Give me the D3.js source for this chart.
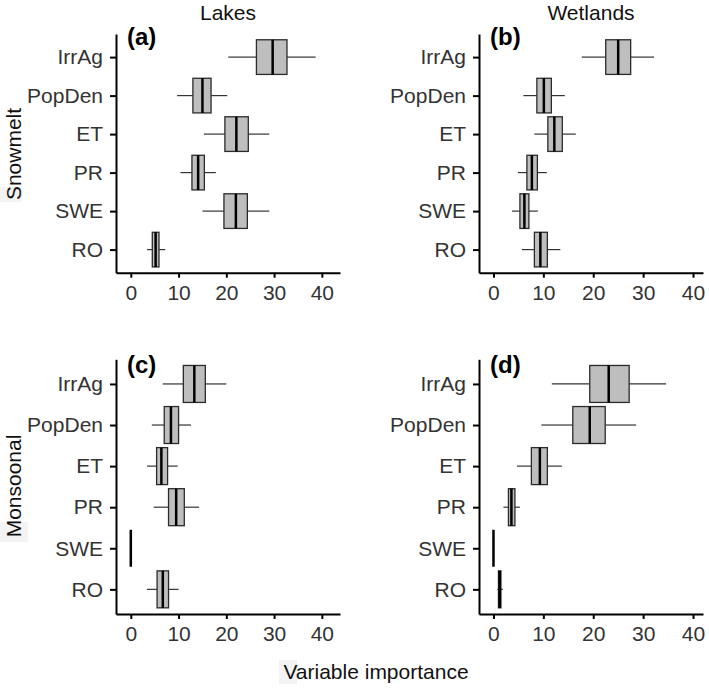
<!DOCTYPE html>
<html>
<head>
<meta charset="utf-8">
<script src="https://cdnjs.cloudflare.com/ajax/libs/d3/7.8.5/d3.min.js"></script>
<style>
  body { margin: 0; background: #fff; }
  svg { display: block; font-family: Arial, "Liberation Sans", sans-serif; }
  .axis path, .axis line { stroke: #000; stroke-width: 2; }
  .axis text { fill: #333; font-family: Arial, "Liberation Sans", sans-serif; }
</style>
</head>
<body>
<svg id="chart" width="709" height="688"></svg>
<script>
/******************* Data ***********************************/
var variables = ['IrrAg', 'PopDen', 'ET', 'PR', 'SWE', 'RO'];
var xTicks = [0, 10, 20, 30, 40];
var columns = ['Lakes', 'Wetlands'];
var rows = ['Snowmelt', 'Monsoonal'];

// each row: [lower whisker, q1, median, q3, upper whisker]
var lakesSnowmelt = [
  [20.4, 26.3, 29.7, 32.7, 38.7],
  [9.7, 13.0, 15.0, 16.8, 20.2],
  [15.3, 19.7, 22.1, 24.6, 29.0],
  [10.4, 12.8, 14.1, 15.4, 17.8],
  [15.0, 19.5, 22.0, 24.4, 29.0],
  [3.4, 4.5, 5.2, 5.9, 7.2]
];
var wetlandsSnowmelt = [
  [17.7, 22.5, 25.0, 27.5, 32.2],
  [6.0, 8.7, 10.1, 11.6, 14.3],
  [8.2, 10.9, 12.2, 13.8, 16.5],
  [4.9, 6.7, 7.7, 8.8, 10.7],
  [3.7, 5.3, 6.2, 7.1, 8.9],
  [5.7, 8.2, 9.4, 10.8, 13.4]
];
var lakesMonsoonal = [
  [6.7, 11.0, 13.3, 15.6, 20.0],
  [4.4, 7.0, 8.4, 10.0, 12.6],
  [3.4, 5.4, 6.4, 7.7, 9.8],
  [4.8, 7.9, 9.5, 11.2, 14.3],
  [0, 0, 0, 0, 0],
  [3.4, 5.5, 6.7, 7.9, 10.0]
];
var wetlandsMonsoonal = [
  [11.7, 19.3, 23.1, 27.2, 34.6],
  [9.6, 15.9, 19.3, 22.4, 28.6],
  [4.7, 7.6, 9.3, 10.8, 13.7],
  [2.0, 3.0, 3.6, 4.3, 5.3],
  [0, 0, 0, 0, 0],
  [0.8, 1.0, 1.25, 1.5, 1.9]
];

/******************* Layout *********************************/
var panels = [
  { tag: '(a)', data: lakesSnowmelt, left: 116, right: 340, top: 34, bottom: 272.7, domain: [-3.1, 43.8], tagY: 45 },
  { tag: '(b)', data: wetlandsSnowmelt, left: 479, right: 703, top: 34, bottom: 272.7, domain: [-2.9, 42], tagY: 45 },
  { tag: '(c)', data: lakesMonsoonal, left: 116, right: 340, top: 359.3, bottom: 614, domain: [-3.1, 43.8], tagY: 373 },
  { tag: '(d)', data: wetlandsMonsoonal, left: 479, right: 703, top: 359.3, bottom: 614, domain: [-2.9, 42], tagY: 373 }
];

var svg = d3.select('#chart');

// faint label backgrounds seen in the source image
svg.append('rect').attr('x', 0).attr('y', 187).attr('width', 22).attr('height', 15).attr('fill', '#f3f3f3');
svg.append('rect').attr('x', 0).attr('y', 522).attr('width', 28).attr('height', 20).attr('fill', '#f3f3f3');
svg.append('rect').attr('x', 279).attr('y', 660).attr('width', 18).attr('height', 24).attr('fill', '#f3f3f3');

panels.forEach(function(p) {
  var x = d3.scaleLinear().domain(p.domain).range([p.left, p.right]);
  var y = d3.scalePoint().domain(variables).range([p.top, p.bottom]).padding(0.6);
  var bh = y.step() * 0.9;

  var g = svg.append('g');

  var boxes = g.selectAll('g.box')
    .data(p.data)
    .enter().append('g')
    .attr('class', 'box')
    .attr('transform', function(d, i) { return 'translate(0,' + y(variables[i]) + ')'; });

  // whiskers
  boxes.append('line')
    .attr('x1', function(d) { return x(d[0]); })
    .attr('x2', function(d) { return x(d[1]); })
    .attr('stroke', '#333').attr('stroke-width', 1.2);
  boxes.append('line')
    .attr('x1', function(d) { return x(d[3]); })
    .attr('x2', function(d) { return x(d[4]); })
    .attr('stroke', '#333').attr('stroke-width', 1.2);

  boxes.append('rect')
    .attr('x', function(d) { return x(d[1]); })
    .attr('y', -bh / 2)
    .attr('width', function(d) { return x(d[3]) - x(d[1]); })
    .attr('height', bh)
    .attr('fill', '#bebebe')
    .attr('stroke', '#2b2b2b')
    .attr('stroke-width', 1.3);

  // median
  boxes.append('line')
    .attr('x1', function(d) { return x(d[2]); })
    .attr('x2', function(d) { return x(d[2]); })
    .attr('y1', -bh / 2)
    .attr('y2', bh / 2)
    .attr('stroke', '#000')
    .attr('stroke-width', 2.5);

  g.append('g')
    .attr('class', 'axis')
    .attr('transform', 'translate(0,' + p.bottom + ')')
    .call(d3.axisBottom(x).tickValues(xTicks).tickSize(5).tickSizeOuter(0).tickPadding(7))
    .selectAll('text').attr('font-size', 21);

  g.append('g')
    .attr('class', 'axis')
    .attr('transform', 'translate(' + p.left + ',0)')
    .call(d3.axisLeft(y).tickSize(6).tickSizeOuter(0).tickPadding(7))
    .selectAll('text').attr('font-size', 21);

  g.append('text')
    .attr('x', p.left + 11)
    .attr('y', p.tagY)
    .attr('font-size', 24)
    .attr('font-weight', 'bold')
    .attr('fill', '#000')
    .text(p.tag);
});

/******************* Titles *********************************/
svg.selectAll('text.col')
  .data(columns)
  .enter().append('text')
  .attr('class', 'col')
  .attr('x', function(d, i) { return [228, 591][i]; })
  .attr('y', 19.5)
  .attr('text-anchor', 'middle')
  .attr('font-size', 21)
  .attr('fill', '#111')
  .text(function(d) { return d; });

svg.selectAll('text.row')
  .data(rows)
  .enter().append('text')
  .attr('class', 'row')
  .attr('transform', function(d, i) { return 'translate(21,' + [154, 486][i] + ') rotate(-90)'; })
  .attr('text-anchor', 'middle')
  .attr('font-size', 21)
  .attr('fill', '#111')
  .text(function(d) { return d; });

svg.append('text')
  .attr('x', 376)
  .attr('y', 679)
  .attr('text-anchor', 'middle')
  .attr('font-size', 21)
  .attr('fill', '#111')
  .text('Variable importance');
</script>
</body>
</html>
